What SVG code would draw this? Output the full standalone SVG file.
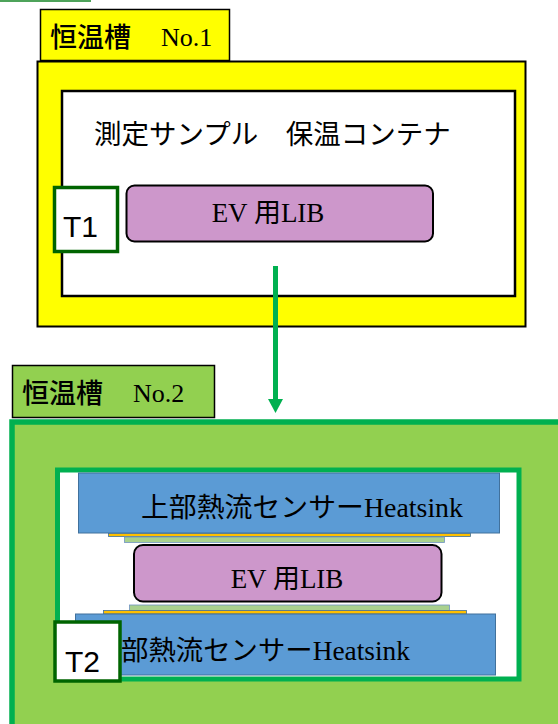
<svg xmlns="http://www.w3.org/2000/svg" width="558" height="724" viewBox="0 0 558 724">
<style>
.cjk{font-family:"Noto Sans CJK JP","Noto Sans",sans-serif;fill:#000}
.ser{font-family:"Liberation Serif","Noto Sans CJK JP",serif;fill:#000}
.san{font-family:"Liberation Sans",Arial,sans-serif;fill:#000}
.lib{fill:#cd97cb;stroke:#000;stroke-width:2}
.hs{fill:#5b9bd5;stroke:#41719c;stroke-width:1}
.pad{fill:#a9d18e;stroke:#6f93c2;stroke-width:0.8}
.tim{fill:#ffc000;stroke:#41719c;stroke-width:0.8}
.tbox{fill:#fff;stroke:#006400;stroke-width:3.5}
</style>
<defs>
<marker id="ah" markerWidth="16" markerHeight="16" refX="0" refY="7.5" orient="auto" markerUnits="userSpaceOnUse" viewBox="0 0 16 16">
<path d="M0,0 L14,7.5 L0,15 Z" fill="#00b050"/>
</marker>
</defs>
<rect width="558" height="724" fill="#fff"/>
<line x1="0" y1="1" x2="91" y2="1" stroke="#4ea35a" stroke-width="2"/>

<g id="chamber2">
<rect x="12" y="422" width="600" height="400" fill="#92d050" stroke="#00b050" stroke-width="5.5"/>
</g>
<g id="label2">
<rect x="12.5" y="365.5" width="202" height="52" fill="#92d050" stroke="#000" stroke-width="1.5"/>
<text x="22" y="403" class="cjk" font-size="27" font-weight="500">恒温槽</text>
<text x="133" y="402" class="ser" font-size="26">No.2</text>
</g>
<g id="holder">
<rect x="57.5" y="470" width="461.5" height="209" fill="#fff" stroke="#00b050" stroke-width="5"/>
</g>
<g id="heatsinkTop">
<rect x="78.5" y="473" width="421" height="60" class="hs"/>
<text x="141" y="517" class="ser" font-size="27" textLength="322" lengthAdjust="spacingAndGlyphs">上部熱流センサーHeatsink</text>
</g>
<g id="layersTop">
<rect x="108.5" y="533.5" width="362" height="3" class="tim"/>
<rect x="124.5" y="537" width="320" height="5.5" class="pad"/>
</g>
<g id="lib2">
<rect x="134" y="545" width="307.5" height="56.5" rx="9" class="lib"/>
<text x="287" y="588" class="ser" font-size="27" text-anchor="middle">EV 用LIB</text>
</g>
<g id="layersBottom">
<rect x="129.5" y="605" width="320" height="5.5" class="pad"/>
<rect x="103.5" y="610.5" width="363" height="3.5" class="tim"/>
</g>
<g id="heatsinkBottom">
<rect x="75.5" y="614" width="420" height="61" class="hs"/>
<text x="121" y="660" class="ser" font-size="27" textLength="289" lengthAdjust="spacingAndGlyphs">部熱流センサーHeatsink</text>
</g>
<g id="T2">
<rect x="55" y="622" width="65" height="59" class="tbox"/>
<text x="65" y="672" class="san" font-size="30">T2</text>
</g>

<g id="chamber1">
<rect x="37.5" y="61.5" width="488" height="265" fill="#ffff00" stroke="#000" stroke-width="2"/>
</g>
<g id="label1">
<rect x="40.5" y="9.5" width="189" height="51" fill="#ffff00" stroke="#000" stroke-width="1.5"/>
<text x="50" y="47" class="cjk" font-size="27" font-weight="500">恒温槽</text>
<text x="161" y="46" class="ser" font-size="26">No.1</text>
</g>
<g id="container">
<rect x="62" y="91" width="453" height="205" fill="#fff" stroke="#000" stroke-width="2.5"/>
<text x="94" y="144" class="cjk" font-size="27.5">測定サンプル　保温コンテナ</text>
</g>
<g id="lib1">
<rect x="126.5" y="185.5" width="306.5" height="56" rx="8" class="lib" stroke-width="1.5"/>
<text x="268" y="222" class="ser" font-size="27" text-anchor="middle">EV 用LIB</text>
</g>
<g id="T1">
<rect x="54.5" y="187.5" width="63" height="64" class="tbox"/>
<text x="63" y="237" class="san" font-size="30">T1</text>
</g>

<g id="connectors">
<line x1="275.5" y1="266" x2="275.5" y2="399" stroke="#00b050" stroke-width="5" marker-end="url(#ah)"/>
</g>
</svg>
